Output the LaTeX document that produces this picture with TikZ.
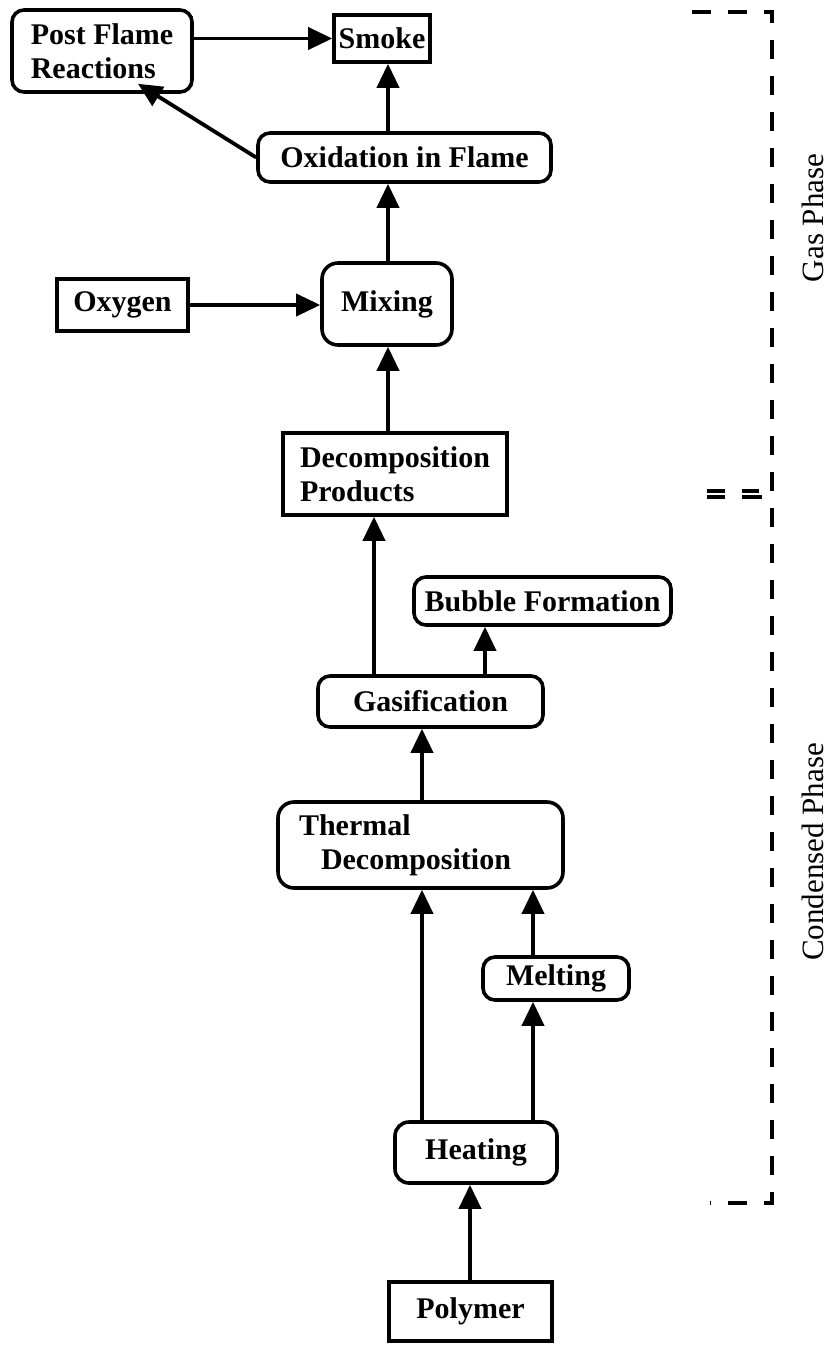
\documentclass[tikz,border=0pt]{standalone}
\usepackage{fontspec}
\setmainfont{Liberation Serif}
\usetikzlibrary{arrows.meta,calc}
\newcommand{\figfs}{\fontsize{30}{34}\selectfont\bfseries}
\tikzset{
  box/.style={draw, line width=3.6pt, inner sep=0pt, font=\figfs, align=center},
  sbox/.style={box},
  rbox/.style={box, rounded corners=12pt},
  arr/.style={line width=3.8pt, -{Triangle[length=24pt,width=22pt]}},
  brk/.style={line width=3.5pt, dash pattern=on 19pt off 17pt},
  eqmark/.style={line width=3.2pt},
  phase/.style={font=\fontsize{31}{34}\selectfont, rotate=90}
}
\begin{document}
\begin{tikzpicture}[x=1pt,y=-1pt]
\path[use as bounding box] (0,0) rectangle (832,1346);
% nodes
\node[rbox, minimum width=180pt, minimum height=82pt, align=left] (pfr) at (102,51) {Post Flame\\Reactions};
\node[sbox, minimum width=96pt, minimum height=47pt] (smoke) at (382,38.5) {Smoke};
\node[rbox, minimum width=293pt, minimum height=49pt] (oxid) at (404.5,157.5) {Oxidation in Flame};
\node[sbox, minimum width=131pt, minimum height=52pt] (oxygen) at (122.5,305) {Oxygen};
\node[rbox, rounded corners=16pt, minimum width=130pt, minimum height=82pt] (mixing) at (387,304) {Mixing};
\node[sbox, minimum width=224pt, minimum height=82pt, align=left] (decomp) at (395,474) {Decomposition\\Products};
\node[rbox, minimum width=257pt, minimum height=48pt] (bubble) at (542.5,601) {Bubble Formation};
\node[rbox, minimum width=225pt, minimum height=51pt] (gasif) at (430.5,701.5) {Gasification};
\node[rbox, rounded corners=16pt, minimum width=285pt, minimum height=86pt, text width=243pt, align=left] (thermal) at (420.5,845) {Thermal\\\hspace*{22pt}Decomposition};
\node[rbox, minimum width=146pt, minimum height=43pt] (melting) at (556,978.5) {Melting};
\node[rbox, rounded corners=14pt, minimum width=162pt, minimum height=61pt] (heating) at (476,1152.5) {Heating};
\node[sbox, minimum width=163pt, minimum height=59pt] (polymer) at (470.5,1311.5) {Polymer};
% helper coordinates for vertical trunks
\coordinate (xa) at (388,0);
\coordinate (xg) at (374,0);
\coordinate (xb) at (485,0);
\coordinate (xt) at (422,0);
\coordinate (xm) at (533,0);
\coordinate (xp) at (470,0);
\coordinate (pftip) at ($(pfr.south)+(36,-10)$);
% connectors
\draw[arr] (pfr.east |- smoke.west) -- (smoke.west);
\draw[arr] (oxid.north -| xa) -- (smoke.south -| xa);
\draw[arr] (oxid.west) -- (pftip);
\draw[arr] (mixing.north -| xa) -- (oxid.south -| xa);
\draw[arr] (oxygen.east) -- (mixing.west |- oxygen.east);
\draw[arr] (decomp.north -| xa) -- (mixing.south -| xa);
\draw[arr] (gasif.north -| xg) -- (decomp.south -| xg);
\draw[arr] (gasif.north -| xb) -- (bubble.south -| xb);
\draw[arr] (thermal.north -| xt) -- (gasif.south -| xt);
\draw[arr] (heating.north -| xt) -- (thermal.south -| xt);
\draw[arr] (heating.north -| xm) -- (melting.south -| xm);
\draw[arr] (melting.north -| xm) -- (thermal.south -| xm);
\draw[arr] (polymer.north -| xp) -- (heating.south -| xp);
% phase bracket
\coordinate (bt) at (692,12);
\coordinate (bc1) at (772,12);
\coordinate (bc2) at (772,1203);
\coordinate (bb) at (710,1203);
\draw[brk] (bt) -- (bc1) -- (bc2) -- (bb);
\coordinate (e1a) at (707,491); \coordinate (e1b) at (725,491);
\coordinate (e2a) at (707,497); \coordinate (e2b) at (725,497);
\coordinate (e3a) at (742,491); \coordinate (e3b) at (759,491);
\coordinate (e4a) at (742,497); \coordinate (e4b) at (762,497);
\draw[eqmark] (e1a) -- (e1b);
\draw[eqmark] (e2a) -- (e2b);
\draw[eqmark] (e3a) -- (e3b);
\draw[eqmark] (e4a) -- (e4b);
\node[phase] (gas) at (813,218) {Gas Phase};
\node[phase] (cond) at (813,852) {Condensed Phase};
\end{tikzpicture}
\end{document}
